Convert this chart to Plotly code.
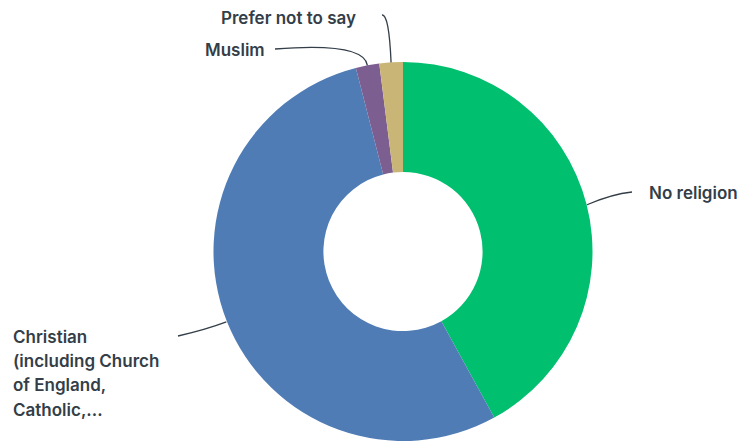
import math
import plotly.graph_objects as go

# ---- data ----
labels = ["No religion", "Christian (including Church of England, Catholic,...", "Muslim", "Prefer not to say"]
display_lines = [["No religion"],
                 ["Christian", "(including Church", "of England,", "Catholic,..."],
                 ["Muslim"],
                 ["Prefer not to say"]]
values = [42, 54, 2, 2]
colors = ["#00BF6F", "#507CB6", "#7D5E90", "#C9B677"]

OFF = 8  # page body margin
W, H = 747 - OFF, 441 - OFF
CX, CY, R = 403, 252, 190  # pie geometry in page pixels
LINE_H = 24.2

def px(x):
    return (x - OFF) / W

def py(y):
    return 1 - (y - OFF) / H

fig = go.Figure()
fig.add_trace(go.Pie(
    labels=labels, values=values, sort=False, direction="clockwise", rotation=0,
    hole=0.42, textinfo="none", hoverinfo="label+percent",
    marker=dict(colors=colors, line=dict(color="white", width=0)),
    domain=dict(x=[px(CX - R), px(CX + R)], y=[max(0, py(CY + R)), py(CY - R)]),
    showlegend=False,
))

# label styling: (text end point, control point, first-line text anchor, xanchor)
label_style = [
    dict(end=(632, 192), ctrl=(612, 194), text=(647, 193), xanchor="left"),
    dict(end=(178, 336), ctrl=(205, 330), text=(11, 337), xanchor="left"),
    dict(end=(275, 49), ctrl=(364, 42), text=(267, 50), xanchor="right"),
    dict(end=(382, 15), ctrl=(389, 14), text=(358, 18), xanchor="right"),
]

total = sum(values)
cum = 0
shapes = []
annotations = []
for lines, v, st in zip(display_lines, values, label_style):
    mid = (cum + v / 2) / total * 2 * math.pi
    cum += v
    sx = CX + R * math.sin(mid)
    sy = CY - R * math.cos(mid)
    ex, ey = st["end"]
    qx, qy = st["ctrl"]
    path = f"M {px(sx)},{py(sy)} Q {px(qx)},{py(qy)} {px(ex)},{py(ey)}"
    shapes.append(dict(type="path", path=path, xref="paper", yref="paper",
                       line=dict(color="#333e48", width=1.3)))
    tx, ty = st["text"]
    for i, line in enumerate(lines):
        annotations.append(dict(
            x=px(tx), y=py(ty + i * LINE_H), xref="paper", yref="paper", text=line,
            showarrow=False, xanchor=st["xanchor"], yanchor="middle", align="left",
            font=dict(family="Inter, Roboto, sans-serif", size=17, color="#333e48", weight=600),
        ))

fig.update_layout(
    width=W, height=H, margin=dict(l=0, r=0, t=0, b=0),
    paper_bgcolor="white", plot_bgcolor="white",
    shapes=shapes, annotations=annotations,
)

fig.write_html("out.html")
